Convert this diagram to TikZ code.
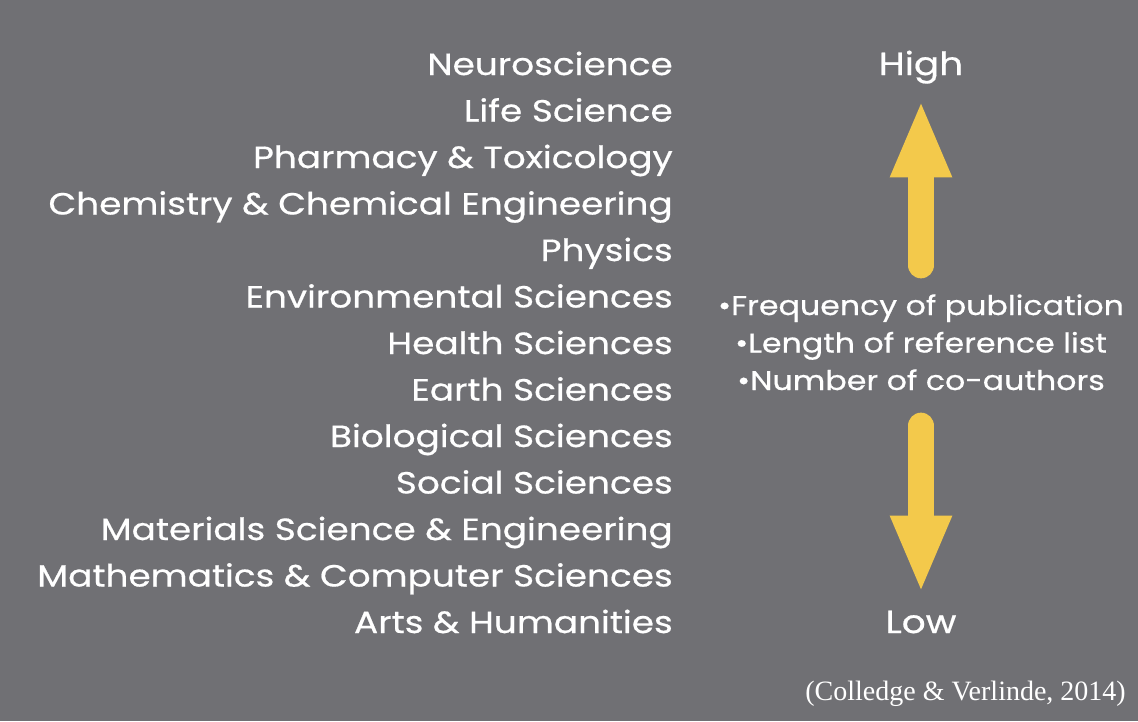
\documentclass[tikz,border=0pt]{standalone}
\usepackage{fontspec}
\setmainfont{Liberation Serif}
\newfontfamily\slidefont[FakeStretch=1.17, FakeBold=0.6]{Poppins}
\usepackage{xcolor}
\usetikzlibrary{arrows.meta,positioning}
\definecolor{slidegray}{RGB}{112,112,116}
\definecolor{arrowyellow}{RGB}{243,201,75}

\begin{document}
\begin{tikzpicture}[x=0.75pt, y=-0.75pt, >=Stealth,
    field/.style={anchor=base east, inner sep=0pt, text=white, font=\slidefont\fontsize{23}{27}\selectfont},
    level/.style={anchor=base, inner sep=0pt, text=white, font=\slidefont\fontsize{24}{28}\selectfont},
    metric/.style={anchor=base, inner sep=0pt, text=white, font=\slidefont\fontsize{20.3}{24}\selectfont},
    bigarrow/.style={arrowyellow, line width=20pt, line cap=round, -{Triangle[length=58pt, width=42pt]}}]
        % Background
        \fill[slidegray] (0,0) rectangle (1138,721);
        \useasboundingbox (0,0) rectangle (1138,721);

        % Fields, from high to low
        \node[field] (neuro) at (673, 75) {Neuroscience};
        \node[field] (life) at (673, 121.5) {Life Science};
        \node[field] (pharm) at (673, 168) {Pharmacy \& Toxicology};
        \node[field] (chem) at (673, 214.5) {Chemistry \& Chemical Engineering};
        \node[field] (phys) at (673, 261) {Physics};
        \node[field] (env) at (673, 307.5) {Environmental Sciences};
        \node[field] (health) at (673, 354) {Health Sciences};
        \node[field] (earth) at (673, 400.5) {Earth Sciences};
        \node[field] (bio) at (673, 447) {Biological Sciences};
        \node[field] (social) at (673, 493.5) {Social Sciences};
        \node[field] (mater) at (673, 540) {Materials Science \& Engineering};
        \node[field] (math) at (673, 586.5) {Mathematics \& Computer Sciences};
        \node[field] (arts) at (673, 633) {Arts \& Humanities};

        % Scale ends
        \node[level] (high) at (921, 75) {High};
        \node[level] (low) at (921, 633) {Low};

        % Measures
        \node[metric] (freq) at (921, 315) {\textbullet Frequency of publication};
        \node[metric] (reflist) at (921, 352.5) {\textbullet Length of reference list};
        \node[metric] (coauth) at (921, 390) {\textbullet Number of co-authors};

        % Arrows
        \coordinate (upfoot) at (921, 265);
        \coordinate (uptip) at (921, 100);
        \coordinate (downfoot) at (921, 426);
        \coordinate (downtip) at (921, 593);
        \draw[bigarrow] (upfoot) -- (uptip);
        \draw[bigarrow] (downfoot) -- (downtip);

        % Source
        \node[anchor=base east, inner sep=0pt, text=white, font=\fontsize{21}{25}\selectfont] (source) at (1126, 700) {(Colledge \& Verlinde, 2014)};
    \end{tikzpicture}
\end{document}
